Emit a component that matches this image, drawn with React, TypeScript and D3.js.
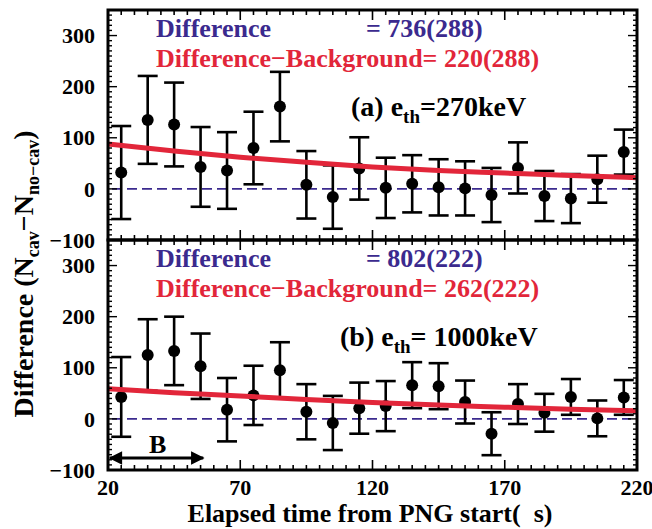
import * as d3 from 'd3';

// time bins (μs from PNG start), 10 μs wide
const timeBins = [25, 35, 45, 55, 65, 75, 85, 95, 105, 115, 125, 135, 145, 155, 165, 175, 185, 195, 205, 215];

// panel (a) e_th = 270 keV
const diffA = [32, 135, 126, 43, 36, 80, 161, 8, -16, 40, 2, 10, 3, 1, -12, 41, -14, -19, 19, 72];
const errA = [91, 86, 82, 78, 75, 71, 68, 66, 62, 61, 59, 56, 55, 53, 53, 50, 49, 48, 46, 44];

// panel (b) e_th = 1000 keV
const diffB = [43, 125, 133, 103, 18, 46, 95, 14, -8, 21, 25, 66, 64, 33, -29, 29, 12, 43, 1, 42];
const errB = [78, 70, 67, 64, 62, 58, 55, 54, 53, 50, 49, 45, 45, 42, 42, 39, 37, 35, 35, 34];

// background curve
const bgTimes = [20, 45, 70, 95, 120, 145, 170, 195, 220];
const bgA = [88, 74, 62, 52, 43, 36, 31, 26, 22];
const bgB = [59, 51, 45, 38, 32, 27, 23, 19, 16];

const xTicks = [20, 70, 120, 170, 220];
const yTicks = [-100, 0, 100, 200, 300];
const bRange = [20, 56];

const W = 652;
const H = 529;
const left = 108;
const right = 637;
const FONT = '"Liberation Serif", "Times New Roman", serif';
const BLUE = '#3b2a8e';
const RED = '#e2263a';

const x = d3.scaleLinear().domain([20, 220]).range([left, right]);

type PanelProps = {
  top: number;
  bottom: number;
  values: number[];
  errs: number[];
  bg: number[];
  diffText: string;
  bgText: string;
  label: string;
  labelTail: string;
  labelX: number;
  id: string;
  showB?: boolean;
};

const Panel = (p: PanelProps) => {
  const y = d3.scaleLinear().domain([-100, 350]).range([p.bottom, p.top]);
  const line = d3
    .line<number>()
    .x((_, i) => x(bgTimes[i]))
    .y((d) => y(d))
    .curve(d3.curveMonotoneX);

  const xMinor = d3.range(20, 221, 5);
  const yMinor = d3.range(-100, 351, 10);

  return (
    <g>
      <clipPath id={p.id}>
        <rect x={left} y={p.top} width={right - left} height={p.bottom - p.top} />
      </clipPath>

      {/* zero line */}
      <line
        x1={left + 4}
        x2={right - 6}
        y1={y(0)}
        y2={y(0)}
        stroke={BLUE}
        strokeWidth={1.6}
        strokeDasharray="10,5"
      />

      {/* error bars */}
      {timeBins.map((t, i) => {
        const cx = x(t);
        const hi = y(p.values[i] + p.errs[i]);
        const lo = y(p.values[i] - p.errs[i]);
        return (
          <g key={t} stroke="#000" strokeWidth={2.6}>
            <line x1={cx} x2={cx} y1={hi} y2={lo} />
            <line x1={cx - 10} x2={cx + 10} y1={hi} y2={hi} />
            <line x1={cx - 10} x2={cx + 10} y1={lo} y2={lo} />
            <circle cx={cx} cy={y(p.values[i])} r={6} fill="#000" stroke="none" />
          </g>
        );
      })}

      {/* background fit */}
      <path d={line(p.bg) || ''} fill="none" stroke={RED} strokeWidth={5} clipPath={`url(#${p.id})`} />

      {/* ticks */}
      {xMinor.map((t) => {
        const major = (t - 20) % 50 === 0;
        const len = major ? 10 : 5;
        return (
          <g key={'x' + t} stroke="#000" strokeWidth={1.6}>
            <line x1={x(t)} x2={x(t)} y1={p.top} y2={p.top + len} />
            <line x1={x(t)} x2={x(t)} y1={p.bottom} y2={p.bottom - len} />
          </g>
        );
      })}
      {yMinor.map((v) => {
        const major = v % 100 === 0;
        const len = major ? 9 : 4;
        return (
          <g key={'y' + v} stroke="#000" strokeWidth={1.4}>
            <line x1={left} x2={left + len} y1={y(v)} y2={y(v)} />
            <line x1={right} x2={right - len} y1={y(v)} y2={y(v)} />
          </g>
        );
      })}

      <rect
        x={left}
        y={p.top}
        width={right - left}
        height={p.bottom - p.top}
        fill="none"
        stroke="#000"
        strokeWidth={3}
      />

      {/* y tick labels */}
      {yTicks.map((v) => (
        <text
          key={'yl' + v}
          x={95}
          y={y(v)}
          dy="0.35em"
          textAnchor="end"
          fontFamily={FONT}
          fontWeight="bold"
          fontSize={22}
        >
          {v < 0 ? '\u2212' + Math.abs(v) : v}
        </text>
      ))}

      {/* annotations */}
      <g fontFamily={FONT} fontWeight="bold" fontSize={26}>
        <text x={156} y={p.top + 27} fill={BLUE}>
          Difference
        </text>
        <text x={366} y={p.top + 27} fill={BLUE}>
          {p.diffText}
        </text>
        <text x={156} y={p.top + 57} fill={RED}>
          {p.bgText}
        </text>
      </g>
      <text x={p.labelX} y={p.top + 106} fontFamily={FONT} fontWeight="bold" fontSize={28}>
        {p.label}
        <tspan fontSize={19} dy={7}>
          th
        </tspan>
        <tspan dy={-7}>{p.labelTail}</tspan>
      </text>

      {p.showB && (
        <g>
          <defs>
            <marker id="arr" viewBox="0 0 10 10" refX="9" refY="5" markerWidth="5" markerHeight="4.5" orient="auto-start-reverse">
              <path d="M0,0 L10,5 L0,10 z" fill="#000" />
            </marker>
          </defs>
          <line
            x1={x(bRange[0]) + 2}
            x2={x(bRange[1])}
            y1={p.bottom - 12}
            y2={p.bottom - 12}
            stroke="#000"
            strokeWidth={3}
            markerStart="url(#arr)"
            markerEnd="url(#arr)"
          />
          <text
            x={(x(bRange[0]) + x(bRange[1])) / 2 + 2}
            y={p.bottom - 17}
            textAnchor="middle"
            fontFamily={FONT}
            fontWeight="bold"
            fontSize={26}
          >
            B
          </text>
        </g>
      )}
    </g>
  );
};

export default function App() {
  return (
    <svg width={W} height={H} style={{ position: 'absolute', left: 0, top: 0, background: '#fff' }}>
      <Panel
        id="clipA"
        top={10}
        bottom={240}
        values={diffA}
        errs={errA}
        bg={bgA}
        diffText="= 736(288)"
        bgText={'Difference\u2212Background= 220(288)'}
        label="(a) e"
        labelTail="=270keV"
        labelX={351}
      />
      <Panel
        id="clipB"
        top={240}
        bottom={470}
        values={diffB}
        errs={errB}
        bg={bgB}
        diffText="= 802(222)"
        bgText={'Difference\u2212Background= 262(222)'}
        label="(b) e"
        labelTail="= 1000keV"
        labelX={340}
        showB
      />

      {/* x tick labels */}
      {xTicks.map((t) => (
        <text
          key={t}
          x={x(t)}
          y={495}
          textAnchor="middle"
          fontFamily={FONT}
          fontWeight="bold"
          fontSize={22}
        >
          {t}
        </text>
      ))}
      <text x={370} y={522} textAnchor="middle" fontFamily={FONT} fontWeight="bold" fontSize={26}>
        {'Elapsed time from PNG start(\u00a0\u00a0s)'}
      </text>

      <text
        transform="translate(33,274) rotate(-90)"
        textAnchor="middle"
        fontFamily={FONT}
        fontWeight="bold"
        fontSize={28}
      >
        Difference (N
        <tspan fontSize={18} dy={6}>
          cav
        </tspan>
        <tspan dy={-6}>{'\u2212N'}</tspan>
        <tspan fontSize={18} dy={6}>
          {'no\u2212cav'}
        </tspan>
        <tspan dy={-6}>)</tspan>
      </text>
    </svg>
  );
}
